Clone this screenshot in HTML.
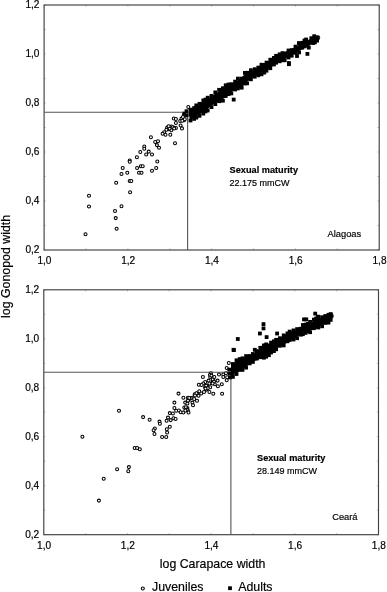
<!DOCTYPE html>
<html lang="en">
<head>
<meta charset="utf-8">
<title>log Gonopod width vs log Carapace width</title>
<style>
html,body{margin:0;padding:0;background:#fff;}
body{width:387px;height:592px;overflow:hidden;}
svg{display:block;font-family:"Liberation Sans",Arial,Helvetica,sans-serif;fill:#000;}
text{stroke:#000;stroke-width:0.18px;}
.tk{font-size:10.1px;}
.ax{font-size:12.35px;}
.an{font-size:9px;}
.anb{font-size:9.2px;font-weight:bold;}
.site{font-size:9.3px;}
.juv circle{fill:#fff;stroke:#000;stroke-width:1.05;}
.ad{fill:#000;}
</style>
</head>
<body>
<svg width="387" height="592" viewBox="0 0 387 592">
<rect x="0" y="0" width="387" height="592" fill="#fff"/>

<!-- ===== top panel : Alagoas ===== -->
<rect x="44.1" y="5.0" width="335.1" height="245.0" stroke="#404040" stroke-width="1.15" fill="none"/>
<path d="M44.1 250.0 v-1.6 M44.1 5.0 v1.6 M86.0 250.0 v-1.6 M86.0 5.0 v1.6 M127.9 250.0 v-1.6 M127.9 5.0 v1.6 M169.8 250.0 v-1.6 M169.8 5.0 v1.6 M211.6 250.0 v-1.6 M211.6 5.0 v1.6 M253.5 250.0 v-1.6 M253.5 5.0 v1.6 M295.4 250.0 v-1.6 M295.4 5.0 v1.6 M337.3 250.0 v-1.6 M337.3 5.0 v1.6 M379.2 250.0 v-1.6 M379.2 5.0 v1.6 M44.1 250.0 h1.6 M379.2 250.0 h-1.6 M44.1 225.5 h1.6 M379.2 225.5 h-1.6 M44.1 201.0 h1.6 M379.2 201.0 h-1.6 M44.1 176.5 h1.6 M379.2 176.5 h-1.6 M44.1 152.0 h1.6 M379.2 152.0 h-1.6 M44.1 127.5 h1.6 M379.2 127.5 h-1.6 M44.1 103.0 h1.6 M379.2 103.0 h-1.6 M44.1 78.5 h1.6 M379.2 78.5 h-1.6 M44.1 54.0 h1.6 M379.2 54.0 h-1.6 M44.1 29.5 h1.6 M379.2 29.5 h-1.6 M44.1 5.0 h1.6 M379.2 5.0 h-1.6" stroke="#555" stroke-width="0.8" opacity="0.5" fill="none"/>
<path d="M44.1 112.3 H187.6 V250.0" stroke="#555" stroke-width="1.1" fill="none"/>
<g class="tk">
<text x="39.5" y="252.8" text-anchor="end">0,2</text>
<text x="39.5" y="203.8" text-anchor="end">0,4</text>
<text x="39.5" y="154.8" text-anchor="end">0,6</text>
<text x="39.5" y="105.8" text-anchor="end">0,8</text>
<text x="39.5" y="56.8" text-anchor="end">1,0</text>
<text x="39.5" y="7.8" text-anchor="end">1,2</text>
<text x="44.4" y="264.1" text-anchor="middle">1,0</text>
<text x="128.2" y="264.1" text-anchor="middle">1,2</text>
<text x="211.9" y="264.1" text-anchor="middle">1,4</text>
<text x="295.7" y="264.1" text-anchor="middle">1,6</text>
<text x="379.5" y="264.1" text-anchor="middle">1,8</text>
</g>
<g class="juv">
<circle cx="85.5" cy="234.2" r="1.5"/>
<circle cx="89.0" cy="195.8" r="1.5"/>
<circle cx="89.0" cy="206.5" r="1.5"/>
<circle cx="115.0" cy="210.9" r="1.5"/>
<circle cx="115.7" cy="218.1" r="1.5"/>
<circle cx="116.6" cy="228.8" r="1.5"/>
<circle cx="121.5" cy="206.3" r="1.5"/>
<circle cx="116.2" cy="182.8" r="1.5"/>
<circle cx="130.1" cy="192.3" r="1.5"/>
<circle cx="129.7" cy="180.9" r="1.5"/>
<circle cx="131.3" cy="180.9" r="1.5"/>
<circle cx="121.5" cy="174.0" r="1.5"/>
<circle cx="122.7" cy="167.9" r="1.5"/>
<circle cx="127.3" cy="172.8" r="1.5"/>
<circle cx="129.7" cy="160.5" r="1.5"/>
<circle cx="129.7" cy="161.8" r="1.5"/>
<circle cx="136.9" cy="157.2" r="1.5"/>
<circle cx="137.1" cy="167.9" r="1.5"/>
<circle cx="139.0" cy="172.8" r="1.5"/>
<circle cx="141.5" cy="172.8" r="1.5"/>
<circle cx="140.8" cy="166.3" r="1.5"/>
<circle cx="142.7" cy="166.3" r="1.5"/>
<circle cx="140.3" cy="151.9" r="1.5"/>
<circle cx="144.3" cy="146.5" r="1.5"/>
<circle cx="144.3" cy="148.8" r="1.5"/>
<circle cx="146.2" cy="154.4" r="1.5"/>
<circle cx="148.7" cy="151.6" r="1.5"/>
<circle cx="152.0" cy="154.4" r="1.5"/>
<circle cx="152.0" cy="170.7" r="1.5"/>
<circle cx="156.2" cy="167.9" r="1.5"/>
<circle cx="157.3" cy="161.4" r="1.5"/>
<circle cx="155.2" cy="141.9" r="1.5"/>
<circle cx="158.0" cy="141.2" r="1.5"/>
<circle cx="156.9" cy="145.1" r="1.5"/>
<circle cx="159.0" cy="147.7" r="1.5"/>
<circle cx="188.3" cy="106.9" r="1.5"/>
<circle cx="184.1" cy="114.4" r="1.5"/>
<circle cx="173.8" cy="118.5" r="1.5"/>
<circle cx="175.9" cy="118.9" r="1.5"/>
<circle cx="180.2" cy="121.0" r="1.5"/>
<circle cx="184.1" cy="120.2" r="1.5"/>
<circle cx="175.9" cy="123.0" r="1.5"/>
<circle cx="180.6" cy="125.5" r="1.5"/>
<circle cx="182.0" cy="128.4" r="1.5"/>
<circle cx="171.3" cy="126.4" r="1.5"/>
<circle cx="173.4" cy="127.6" r="1.5"/>
<circle cx="175.9" cy="128.0" r="1.5"/>
<circle cx="167.2" cy="127.6" r="1.5"/>
<circle cx="168.2" cy="129.2" r="1.5"/>
<circle cx="166.4" cy="129.7" r="1.5"/>
<circle cx="171.3" cy="130.3" r="1.5"/>
<circle cx="164.1" cy="132.3" r="1.5"/>
<circle cx="162.6" cy="133.8" r="1.5"/>
<circle cx="165.5" cy="134.8" r="1.5"/>
<circle cx="170.3" cy="134.8" r="1.5"/>
<circle cx="150.9" cy="137.3" r="1.5"/>
<circle cx="175.0" cy="143.3" r="1.5"/>
<circle cx="181.5" cy="118.6" r="1.5"/>
<circle cx="183.0" cy="117.0" r="1.5"/>
<circle cx="184.8" cy="119.3" r="1.5"/>
<circle cx="182.3" cy="120.8" r="1.5"/>
<circle cx="172.6" cy="127.2" r="1.5"/>
<circle cx="174.2" cy="128.4" r="1.5"/>
<circle cx="169.6" cy="128.6" r="1.5"/>
<circle cx="168.6" cy="126.2" r="1.5"/>
</g>
<g class="ad">
<polygon points="188.6,111.7 190.0,110.5 195.5,105.3 200.7,102.7 206.0,99.6 211.0,96.5 216.0,93.2 221.5,89.5 228.0,85.0 234.4,82.4 240.8,77.9 247.3,72.1 253.8,70.1 260.2,65.8 269.0,60.7 278.0,56.1 287.0,50.7 296.0,46.7 305.0,41.5 314.0,37.2 320.6,38.0 320.6,37.6 314.0,42.7 305.0,47.6 296.0,53.0 287.0,58.1 278.0,61.7 269.0,68.9 260.2,74.3 253.8,76.7 247.3,81.8 240.8,87.7 234.4,90.3 228.0,94.1 221.5,100.8 216.0,102.8 211.0,106.1 206.0,110.8 200.7,113.8 195.5,116.8 190.0,120.0 188.6,113.8"/>
<rect x="188.6" y="107.8" width="3.8" height="3.8"/>
<rect x="188.6" y="118.6" width="3.8" height="3.8"/>
<rect x="192.2" y="106.2" width="3.8" height="3.8"/>
<rect x="192.2" y="117.0" width="3.8" height="3.8"/>
<rect x="194.4" y="103.5" width="3.8" height="3.8"/>
<rect x="194.4" y="115.7" width="3.8" height="3.8"/>
<rect x="197.6" y="101.9" width="3.8" height="3.8"/>
<rect x="197.6" y="113.9" width="3.8" height="3.8"/>
<rect x="201.4" y="98.5" width="3.8" height="3.8"/>
<rect x="201.4" y="111.7" width="3.8" height="3.8"/>
<rect x="203.6" y="97.7" width="3.8" height="3.8"/>
<rect x="203.6" y="109.5" width="3.8" height="3.8"/>
<rect x="205.8" y="95.8" width="3.8" height="3.8"/>
<rect x="205.8" y="108.6" width="3.8" height="3.8"/>
<rect x="209.6" y="94.0" width="3.8" height="3.8"/>
<rect x="209.6" y="105.2" width="3.8" height="3.8"/>
<rect x="213.4" y="90.5" width="3.8" height="3.8"/>
<rect x="213.4" y="102.2" width="3.8" height="3.8"/>
<rect x="217.2" y="87.9" width="3.8" height="3.8"/>
<rect x="217.2" y="99.3" width="3.8" height="3.8"/>
<rect x="221.0" y="86.3" width="3.8" height="3.8"/>
<rect x="221.0" y="98.8" width="3.8" height="3.8"/>
<rect x="223.8" y="83.4" width="3.8" height="3.8"/>
<rect x="223.8" y="94.1" width="3.8" height="3.8"/>
<rect x="226.6" y="82.6" width="3.8" height="3.8"/>
<rect x="226.6" y="92.2" width="3.8" height="3.8"/>
<rect x="229.4" y="82.3" width="3.8" height="3.8"/>
<rect x="229.4" y="91.5" width="3.8" height="3.8"/>
<rect x="233.2" y="79.7" width="3.8" height="3.8"/>
<rect x="233.2" y="87.6" width="3.8" height="3.8"/>
<rect x="236.0" y="76.7" width="3.8" height="3.8"/>
<rect x="236.0" y="86.5" width="3.8" height="3.8"/>
<rect x="239.8" y="76.7" width="3.8" height="3.8"/>
<rect x="239.8" y="85.8" width="3.8" height="3.8"/>
<rect x="243.0" y="71.0" width="3.8" height="3.8"/>
<rect x="243.0" y="81.6" width="3.8" height="3.8"/>
<rect x="245.2" y="70.9" width="3.8" height="3.8"/>
<rect x="245.2" y="81.4" width="3.8" height="3.8"/>
<rect x="249.0" y="68.3" width="3.8" height="3.8"/>
<rect x="249.0" y="77.4" width="3.8" height="3.8"/>
<rect x="252.8" y="67.3" width="3.8" height="3.8"/>
<rect x="252.8" y="74.8" width="3.8" height="3.8"/>
<rect x="256.4" y="65.7" width="3.8" height="3.8"/>
<rect x="256.4" y="73.4" width="3.8" height="3.8"/>
<rect x="259.6" y="62.8" width="3.8" height="3.8"/>
<rect x="259.6" y="72.4" width="3.8" height="3.8"/>
<rect x="262.4" y="63.0" width="3.8" height="3.8"/>
<rect x="262.4" y="70.7" width="3.8" height="3.8"/>
<rect x="264.6" y="60.7" width="3.8" height="3.8"/>
<rect x="264.6" y="68.8" width="3.8" height="3.8"/>
<rect x="268.4" y="57.8" width="3.8" height="3.8"/>
<rect x="268.4" y="66.3" width="3.8" height="3.8"/>
<rect x="272.0" y="56.0" width="3.8" height="3.8"/>
<rect x="272.0" y="62.6" width="3.8" height="3.8"/>
<rect x="274.2" y="53.9" width="3.8" height="3.8"/>
<rect x="274.2" y="60.8" width="3.8" height="3.8"/>
<rect x="277.8" y="52.4" width="3.8" height="3.8"/>
<rect x="277.8" y="59.4" width="3.8" height="3.8"/>
<rect x="280.6" y="51.2" width="3.8" height="3.8"/>
<rect x="280.6" y="58.3" width="3.8" height="3.8"/>
<rect x="282.8" y="51.7" width="3.8" height="3.8"/>
<rect x="282.8" y="58.4" width="3.8" height="3.8"/>
<rect x="286.6" y="48.6" width="3.8" height="3.8"/>
<rect x="286.6" y="55.6" width="3.8" height="3.8"/>
<rect x="289.8" y="48.2" width="3.8" height="3.8"/>
<rect x="289.8" y="53.8" width="3.8" height="3.8"/>
<rect x="293.6" y="44.7" width="3.8" height="3.8"/>
<rect x="293.6" y="50.9" width="3.8" height="3.8"/>
<rect x="297.2" y="41.7" width="3.8" height="3.8"/>
<rect x="297.2" y="50.5" width="3.8" height="3.8"/>
<rect x="300.4" y="40.9" width="3.8" height="3.8"/>
<rect x="300.4" y="45.8" width="3.8" height="3.8"/>
<rect x="302.6" y="38.6" width="3.8" height="3.8"/>
<rect x="302.6" y="44.5" width="3.8" height="3.8"/>
<rect x="305.8" y="39.8" width="3.8" height="3.8"/>
<rect x="305.8" y="43.7" width="3.8" height="3.8"/>
<rect x="309.4" y="36.3" width="3.8" height="3.8"/>
<rect x="309.4" y="40.8" width="3.8" height="3.8"/>
<rect x="313.0" y="36.9" width="3.8" height="3.8"/>
<rect x="313.0" y="40.4" width="3.8" height="3.8"/>
<rect x="315.2" y="35.4" width="3.8" height="3.8"/>
<rect x="315.2" y="38.7" width="3.8" height="3.8"/>
<rect x="182.5" y="111.7" width="3.8" height="3.8"/>
<rect x="184.6" y="109.3" width="3.8" height="3.8"/>
<rect x="184.8" y="113.5" width="3.8" height="3.8"/>
<rect x="231.8" y="97.7" width="3.8" height="3.8"/>
<rect x="305.5" y="52.0" width="3.8" height="3.8"/>
<rect x="287.0" y="61.1" width="3.8" height="3.8"/>
<rect x="287.0" y="62.3" width="3.8" height="3.8"/>
<rect x="295.1" y="54.1" width="3.8" height="3.8"/>
<rect x="311.4" y="41.1" width="3.8" height="3.8"/>
<rect x="306.9" y="45.7" width="3.8" height="3.8"/>
<rect x="316.0" y="35.8" width="3.8" height="3.8"/>
<rect x="312.3" y="34.3" width="3.8" height="3.8"/>
<rect x="304.2" y="37.6" width="3.8" height="3.8"/>
<rect x="297.0" y="41.2" width="3.8" height="3.8"/>
</g>
<text class="anb" x="229.6" y="173.3">Sexual maturity</text>
<text class="an" x="229.6" y="186.4">22.175 mmCW</text>
<text class="site" x="327.6" y="236.7">Alagoas</text>

<!-- ===== bottom panel : Ceará ===== -->
<rect x="43.8" y="289.8" width="334.7" height="244.9" stroke="#404040" stroke-width="1.15" fill="none"/>
<path d="M43.8 534.7 v-1.6 M43.8 289.8 v1.6 M85.6 534.7 v-1.6 M85.6 289.8 v1.6 M127.5 534.7 v-1.6 M127.5 289.8 v1.6 M169.3 534.7 v-1.6 M169.3 289.8 v1.6 M211.1 534.7 v-1.6 M211.1 289.8 v1.6 M253.0 534.7 v-1.6 M253.0 289.8 v1.6 M294.8 534.7 v-1.6 M294.8 289.8 v1.6 M336.7 534.7 v-1.6 M336.7 289.8 v1.6 M378.5 534.7 v-1.6 M378.5 289.8 v1.6 M43.8 534.7 h1.6 M378.5 534.7 h-1.6 M43.8 510.2 h1.6 M378.5 510.2 h-1.6 M43.8 485.7 h1.6 M378.5 485.7 h-1.6 M43.8 461.2 h1.6 M378.5 461.2 h-1.6 M43.8 436.7 h1.6 M378.5 436.7 h-1.6 M43.8 412.2 h1.6 M378.5 412.2 h-1.6 M43.8 387.8 h1.6 M378.5 387.8 h-1.6 M43.8 363.3 h1.6 M378.5 363.3 h-1.6 M43.8 338.8 h1.6 M378.5 338.8 h-1.6 M43.8 314.3 h1.6 M378.5 314.3 h-1.6 M43.8 289.8 h1.6 M378.5 289.8 h-1.6" stroke="#555" stroke-width="0.8" opacity="0.5" fill="none"/>
<path d="M43.8 372.2 H230.9 V534.7" stroke="#555" stroke-width="1.1" fill="none"/>
<g class="tk">
<text x="39.2" y="537.5" text-anchor="end">0,2</text>
<text x="39.2" y="488.5" text-anchor="end">0,4</text>
<text x="39.2" y="439.5" text-anchor="end">0,6</text>
<text x="39.2" y="390.6" text-anchor="end">0,8</text>
<text x="39.2" y="341.6" text-anchor="end">1,0</text>
<text x="39.2" y="292.6" text-anchor="end">1,2</text>
<text x="44.1" y="548.8" text-anchor="middle">1,0</text>
<text x="127.8" y="548.8" text-anchor="middle">1,2</text>
<text x="211.4" y="548.8" text-anchor="middle">1,4</text>
<text x="295.1" y="548.8" text-anchor="middle">1,6</text>
<text x="378.8" y="548.8" text-anchor="middle">1,8</text>
</g>
<g class="juv">
<circle cx="228.8" cy="362.9" r="1.5"/>
<circle cx="226.7" cy="367.9" r="1.5"/>
<circle cx="210.9" cy="373.3" r="1.5"/>
<circle cx="219.0" cy="374.4" r="1.5"/>
<circle cx="223.3" cy="374.4" r="1.5"/>
<circle cx="226.0" cy="373.3" r="1.5"/>
<circle cx="202.9" cy="376.9" r="1.5"/>
<circle cx="210.2" cy="376.9" r="1.5"/>
<circle cx="214.3" cy="376.9" r="1.5"/>
<circle cx="223.3" cy="376.9" r="1.5"/>
<circle cx="227.2" cy="377.2" r="1.5"/>
<circle cx="226.7" cy="380.3" r="1.5"/>
<circle cx="213.3" cy="380.0" r="1.5"/>
<circle cx="217.6" cy="380.6" r="1.5"/>
<circle cx="208.6" cy="380.6" r="1.5"/>
<circle cx="205.2" cy="381.9" r="1.5"/>
<circle cx="212.5" cy="382.6" r="1.5"/>
<circle cx="209.4" cy="383.4" r="1.5"/>
<circle cx="203.2" cy="383.4" r="1.5"/>
<circle cx="198.8" cy="384.7" r="1.5"/>
<circle cx="201.6" cy="385.0" r="1.5"/>
<circle cx="221.8" cy="384.2" r="1.5"/>
<circle cx="214.8" cy="384.2" r="1.5"/>
<circle cx="217.9" cy="386.2" r="1.5"/>
<circle cx="207.4" cy="386.5" r="1.5"/>
<circle cx="210.2" cy="387.3" r="1.5"/>
<circle cx="206.3" cy="389.6" r="1.5"/>
<circle cx="209.4" cy="391.9" r="1.5"/>
<circle cx="213.3" cy="393.8" r="1.5"/>
<circle cx="222.1" cy="393.8" r="1.5"/>
<circle cx="204.0" cy="391.9" r="1.5"/>
<circle cx="199.3" cy="391.2" r="1.5"/>
<circle cx="201.2" cy="393.5" r="1.5"/>
<circle cx="197.0" cy="393.5" r="1.5"/>
<circle cx="194.7" cy="394.3" r="1.5"/>
<circle cx="198.5" cy="395.8" r="1.5"/>
<circle cx="193.1" cy="397.4" r="1.5"/>
<circle cx="190.8" cy="398.1" r="1.5"/>
<circle cx="143.1" cy="417.1" r="1.5"/>
<circle cx="149.6" cy="419.8" r="1.5"/>
<circle cx="159.5" cy="421.6" r="1.5"/>
<circle cx="159.9" cy="423.8" r="1.5"/>
<circle cx="154.8" cy="428.5" r="1.5"/>
<circle cx="153.6" cy="430.3" r="1.5"/>
<circle cx="154.5" cy="433.9" r="1.5"/>
<circle cx="162.1" cy="437.0" r="1.5"/>
<circle cx="166.2" cy="437.0" r="1.5"/>
<circle cx="167.1" cy="432.4" r="1.5"/>
<circle cx="166.8" cy="429.2" r="1.5"/>
<circle cx="169.8" cy="426.7" r="1.5"/>
<circle cx="166.6" cy="420.7" r="1.5"/>
<circle cx="168.0" cy="417.6" r="1.5"/>
<circle cx="170.7" cy="420.1" r="1.5"/>
<circle cx="173.5" cy="418.3" r="1.5"/>
<circle cx="175.6" cy="418.9" r="1.5"/>
<circle cx="169.8" cy="413.1" r="1.5"/>
<circle cx="172.9" cy="413.5" r="1.5"/>
<circle cx="174.4" cy="408.0" r="1.5"/>
<circle cx="176.2" cy="410.7" r="1.5"/>
<circle cx="174.4" cy="402.6" r="1.5"/>
<circle cx="178.5" cy="393.6" r="1.5"/>
<circle cx="183.4" cy="397.7" r="1.5"/>
<circle cx="187.9" cy="397.7" r="1.5"/>
<circle cx="188.8" cy="399.9" r="1.5"/>
<circle cx="185.2" cy="402.6" r="1.5"/>
<circle cx="187.4" cy="403.5" r="1.5"/>
<circle cx="192.4" cy="402.6" r="1.5"/>
<circle cx="193.0" cy="405.3" r="1.5"/>
<circle cx="184.3" cy="407.5" r="1.5"/>
<circle cx="187.4" cy="408.0" r="1.5"/>
<circle cx="178.9" cy="410.4" r="1.5"/>
<circle cx="180.7" cy="412.2" r="1.5"/>
<circle cx="183.4" cy="412.5" r="1.5"/>
<circle cx="187.9" cy="410.4" r="1.5"/>
<circle cx="188.5" cy="412.5" r="1.5"/>
<circle cx="194.2" cy="399.0" r="1.5"/>
<circle cx="197.0" cy="400.8" r="1.5"/>
<circle cx="205.1" cy="387.2" r="1.5"/>
<circle cx="210.0" cy="374.8" r="1.5"/>
<circle cx="211.4" cy="375.6" r="1.5"/>
<circle cx="212.8" cy="379.5" r="1.5"/>
<circle cx="214.0" cy="381.6" r="1.5"/>
<circle cx="212.6" cy="383.5" r="1.5"/>
<circle cx="206.2" cy="385.6" r="1.5"/>
<circle cx="207.8" cy="388.2" r="1.5"/>
<circle cx="205.5" cy="388.6" r="1.5"/>
<circle cx="196.4" cy="393.2" r="1.5"/>
<circle cx="195.0" cy="395.4" r="1.5"/>
<circle cx="189.2" cy="398.0" r="1.5"/>
<circle cx="188.0" cy="400.6" r="1.5"/>
<circle cx="186.0" cy="407.2" r="1.5"/>
<circle cx="186.8" cy="409.6" r="1.5"/>
<circle cx="185.4" cy="410.4" r="1.5"/>
<circle cx="119.0" cy="410.7" r="1.5"/>
<circle cx="82.4" cy="436.8" r="1.5"/>
<circle cx="134.7" cy="447.9" r="1.5"/>
<circle cx="137.1" cy="447.9" r="1.5"/>
<circle cx="139.8" cy="449.2" r="1.5"/>
<circle cx="117.1" cy="469.2" r="1.5"/>
<circle cx="128.9" cy="467.1" r="1.5"/>
<circle cx="128.3" cy="471.3" r="1.5"/>
<circle cx="103.7" cy="478.7" r="1.5"/>
<circle cx="98.9" cy="500.6" r="1.5"/>
</g>
<g class="ad">
<polygon points="231.0,364.6 234.0,362.8 243.0,358.3 252.0,355.6 261.0,347.5 270.0,343.4 279.0,339.2 288.0,332.5 297.0,329.5 303.0,325.7 309.5,323.7 316.0,318.8 322.3,317.5 328.8,315.0 333.6,314.5 333.6,317.3 328.8,321.1 322.3,325.4 316.0,327.5 309.5,331.2 303.0,332.8 297.0,337.0 288.0,342.6 279.0,346.7 270.0,353.9 261.0,358.4 252.0,362.0 243.0,369.3 234.0,374.7 231.0,377.2"/>
<rect x="231.0" y="362.1" width="3.8" height="3.8"/>
<rect x="231.0" y="375.0" width="3.8" height="3.8"/>
<rect x="234.6" y="358.4" width="3.8" height="3.8"/>
<rect x="234.6" y="372.1" width="3.8" height="3.8"/>
<rect x="237.8" y="357.2" width="3.8" height="3.8"/>
<rect x="237.8" y="367.9" width="3.8" height="3.8"/>
<rect x="240.6" y="356.4" width="3.8" height="3.8"/>
<rect x="240.6" y="368.0" width="3.8" height="3.8"/>
<rect x="244.2" y="354.2" width="3.8" height="3.8"/>
<rect x="244.2" y="365.7" width="3.8" height="3.8"/>
<rect x="247.8" y="354.1" width="3.8" height="3.8"/>
<rect x="247.8" y="361.5" width="3.8" height="3.8"/>
<rect x="251.0" y="352.1" width="3.8" height="3.8"/>
<rect x="251.0" y="360.0" width="3.8" height="3.8"/>
<rect x="254.8" y="349.2" width="3.8" height="3.8"/>
<rect x="254.8" y="356.7" width="3.8" height="3.8"/>
<rect x="258.4" y="345.9" width="3.8" height="3.8"/>
<rect x="258.4" y="355.3" width="3.8" height="3.8"/>
<rect x="262.0" y="343.5" width="3.8" height="3.8"/>
<rect x="262.0" y="355.8" width="3.8" height="3.8"/>
<rect x="264.2" y="342.5" width="3.8" height="3.8"/>
<rect x="264.2" y="354.8" width="3.8" height="3.8"/>
<rect x="267.0" y="343.5" width="3.8" height="3.8"/>
<rect x="267.0" y="353.3" width="3.8" height="3.8"/>
<rect x="269.2" y="340.7" width="3.8" height="3.8"/>
<rect x="269.2" y="350.6" width="3.8" height="3.8"/>
<rect x="272.0" y="339.4" width="3.8" height="3.8"/>
<rect x="272.0" y="349.2" width="3.8" height="3.8"/>
<rect x="274.2" y="337.9" width="3.8" height="3.8"/>
<rect x="274.2" y="347.4" width="3.8" height="3.8"/>
<rect x="278.0" y="336.3" width="3.8" height="3.8"/>
<rect x="278.0" y="343.9" width="3.8" height="3.8"/>
<rect x="281.8" y="333.5" width="3.8" height="3.8"/>
<rect x="281.8" y="343.5" width="3.8" height="3.8"/>
<rect x="285.6" y="331.5" width="3.8" height="3.8"/>
<rect x="285.6" y="339.4" width="3.8" height="3.8"/>
<rect x="287.8" y="329.7" width="3.8" height="3.8"/>
<rect x="287.8" y="338.1" width="3.8" height="3.8"/>
<rect x="291.6" y="328.5" width="3.8" height="3.8"/>
<rect x="291.6" y="337.6" width="3.8" height="3.8"/>
<rect x="295.2" y="327.2" width="3.8" height="3.8"/>
<rect x="295.2" y="336.3" width="3.8" height="3.8"/>
<rect x="298.8" y="326.8" width="3.8" height="3.8"/>
<rect x="298.8" y="332.8" width="3.8" height="3.8"/>
<rect x="301.0" y="323.1" width="3.8" height="3.8"/>
<rect x="301.0" y="332.3" width="3.8" height="3.8"/>
<rect x="303.8" y="322.7" width="3.8" height="3.8"/>
<rect x="303.8" y="331.0" width="3.8" height="3.8"/>
<rect x="306.0" y="322.0" width="3.8" height="3.8"/>
<rect x="306.0" y="329.2" width="3.8" height="3.8"/>
<rect x="308.2" y="320.0" width="3.8" height="3.8"/>
<rect x="308.2" y="330.3" width="3.8" height="3.8"/>
<rect x="312.0" y="317.7" width="3.8" height="3.8"/>
<rect x="312.0" y="326.3" width="3.8" height="3.8"/>
<rect x="314.2" y="316.6" width="3.8" height="3.8"/>
<rect x="314.2" y="325.1" width="3.8" height="3.8"/>
<rect x="316.4" y="315.1" width="3.8" height="3.8"/>
<rect x="316.4" y="325.6" width="3.8" height="3.8"/>
<rect x="320.2" y="315.3" width="3.8" height="3.8"/>
<rect x="320.2" y="324.4" width="3.8" height="3.8"/>
<rect x="323.4" y="314.1" width="3.8" height="3.8"/>
<rect x="323.4" y="321.0" width="3.8" height="3.8"/>
<rect x="326.6" y="312.9" width="3.8" height="3.8"/>
<rect x="326.6" y="320.7" width="3.8" height="3.8"/>
<rect x="328.8" y="312.6" width="3.8" height="3.8"/>
<rect x="328.8" y="318.0" width="3.8" height="3.8"/>
<rect x="227.4" y="367.7" width="3.8" height="3.8"/>
<rect x="227.8" y="371.7" width="3.8" height="3.8"/>
<rect x="228.1" y="375.5" width="3.8" height="3.8"/>
<rect x="235.9" y="337.1" width="3.8" height="3.8"/>
<rect x="231.6" y="347.9" width="3.8" height="3.8"/>
<rect x="261.6" y="322.2" width="3.8" height="3.8"/>
<rect x="261.6" y="326.5" width="3.8" height="3.8"/>
<rect x="258.0" y="331.6" width="3.8" height="3.8"/>
<rect x="264.7" y="335.2" width="3.8" height="3.8"/>
<rect x="275.2" y="331.6" width="3.8" height="3.8"/>
<rect x="252.9" y="347.9" width="3.8" height="3.8"/>
<rect x="232.0" y="348.2" width="3.8" height="3.8"/>
<rect x="302.1" y="317.5" width="3.8" height="3.8"/>
<rect x="304.4" y="317.5" width="3.8" height="3.8"/>
<rect x="313.3" y="311.7" width="3.8" height="3.8"/>
<rect x="315.9" y="314.7" width="3.8" height="3.8"/>
<rect x="328.8" y="312.3" width="3.8" height="3.8"/>
</g>
<text class="anb" x="257.0" y="460.9">Sexual maturity</text>
<text class="an" x="257.0" y="473.6">28.149 mmCW</text>
<text class="site" x="332.2" y="520.4">Ceará</text>

<!-- ===== axis titles & legend ===== -->
<text class="ax" transform="translate(9.9,317.9) rotate(-90)">log Gonopod width</text>
<text class="ax" x="159.8" y="568.4">log Carapace width</text>
<g class="juv"><circle cx="142.8" cy="588.4" r="1.5"/></g>
<text class="ax" x="152.0" y="591.4">Juveniles</text>
<rect class="ad" x="228.1" y="586.3" width="3.8" height="3.8"/>
<text class="ax" x="238.2" y="591.4">Adults</text>
</svg>
</body>
</html>
